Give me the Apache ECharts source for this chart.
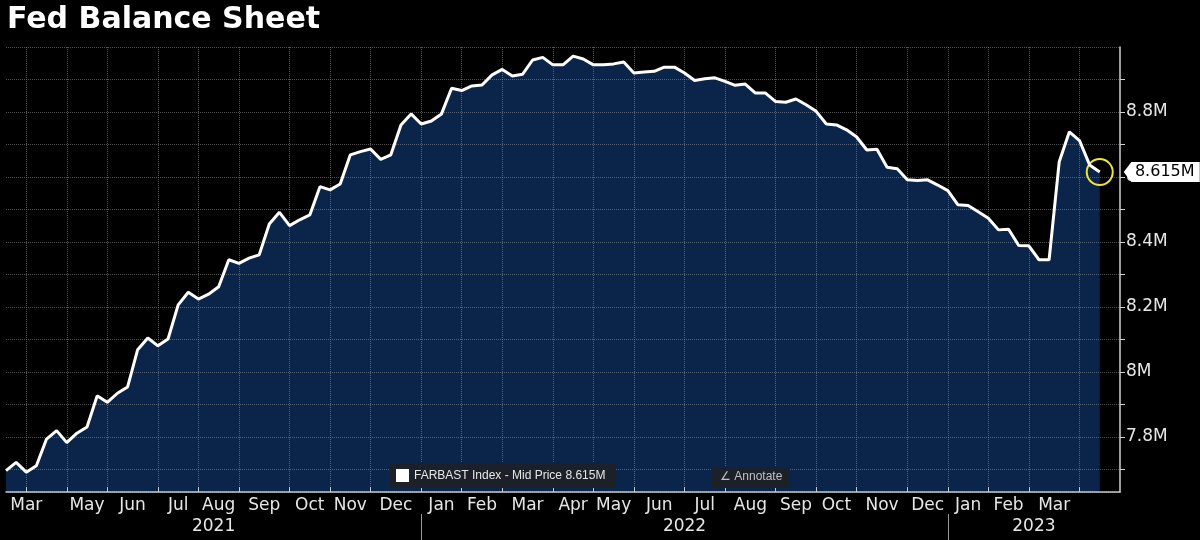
<!DOCTYPE html>
<html>
<head>
<meta charset="utf-8">
<script src="https://cdn.jsdelivr.net/npm/echarts@6/dist/echarts.min.js"></script>
<style>
  html, body { margin: 0; padding: 0; background: #000; }
  #chart { width: 1200px; height: 540px; }
</style>
</head>
<body>
<div id="chart"></div>
<script>
// ---------- DATA ----------
const chartTitle = 'Fed Balance Sheet';
const seriesName = 'FARBAST Index - Mid Price';
const firstWeek = '2021-03-17';   // first weekly observation (Wednesday)
const weekCount = 111;            // weekly slots shown on the axis
const monthNames = ['Jan','Feb','Mar','Apr','May','Jun','Jul','Aug','Sep','Oct','Nov','Dec'];
const yTickLabels = [7.8, 8.0, 8.2, 8.4, 8.6, 8.8];
// Fed total assets (shown in "M")
const balance = [
  7.696, 7.721, 7.691, 7.711, 7.793, 7.819, 7.782, 7.811, 7.830, 7.926,
  7.906, 7.934, 7.953, 8.068, 8.104, 8.080, 8.101, 8.206, 8.245, 8.224,
  8.239, 8.262, 8.345, 8.334, 8.350, 8.360, 8.455, 8.491, 8.450, 8.468,
  8.483, 8.570, 8.560, 8.578, 8.668, 8.678, 8.686, 8.654, 8.668, 8.760,
  8.794, 8.763, 8.772, 8.794, 8.873, 8.866, 8.880, 8.883, 8.914, 8.931,
  8.911, 8.916, 8.960, 8.968, 8.945, 8.945, 8.972, 8.963, 8.945, 8.945,
  8.948, 8.954, 8.920, 8.923, 8.925, 8.938, 8.938, 8.920, 8.897, 8.902,
  8.905, 8.894, 8.882, 8.886, 8.858, 8.858, 8.832, 8.830, 8.840, 8.822,
  8.802, 8.763, 8.760, 8.745, 8.723, 8.683, 8.685, 8.630, 8.625, 8.591,
  8.589, 8.591, 8.575, 8.558, 8.514, 8.512, 8.493, 8.473, 8.437, 8.439,
  8.389, 8.388, 8.345, 8.345, 8.647, 8.739, 8.712, 8.637, 8.615
];

// ---------- DERIVED ----------
const weeks = [];
{
  const d0 = new Date(firstWeek + 'T00:00:00Z');
  for (let i = 0; i < weekCount; i++) {
    const d = new Date(d0.getTime() + i * 7 * 86400000);
    weeks.push(d.toISOString().slice(0, 10));
  }
}
const N = weeks.length;
const lastIdx = balance.length - 1;
const lastVal = balance[lastIdx];
const padded = weeks.map((w, i) => (i < balance.length ? balance[i] : null));
const mon = w => +w.slice(5, 7) - 1;
const yr = w => w.slice(0, 4);

// ticks at the last week of each month; labels centred between ticks (half-week grid)
const monthTicks = [];
const yearTicks = [];
for (let i = 0; i < N - 1; i++) {
  if (mon(weeks[i + 1]) !== mon(weeks[i])) monthTicks.push(i);
  if (yr(weeks[i + 1]) !== yr(weeks[i])) yearTicks.push(i);
}
const halfCats = Array.from({ length: 2 * N - 1 }, (_, h) => String(h));
const tickHalf = new Set(monthTicks.map(i => 2 * i));
const yearTickHalf = new Set(yearTicks.map(i => 2 * i));
const monthLabelAt = {};
{
  let start = 0, lastPos = -100;
  monthTicks.forEach(end => {
    const pos = Math.max(start + end, 4);
    if (pos - lastPos >= 7) {
      monthLabelAt[pos] = monthNames[mon(weeks[end])];
      lastPos = pos;
    }
    start = end;
  });
}
const yearLabelAt = {};
{
  const bounds = [0, ...yearTicks, N - 1];
  for (let k = 0; k < bounds.length - 1; k++) {
    yearLabelAt[bounds[k] + bounds[k + 1]] = yr(weeks[bounds[k + 1]]);
  }
}

const font = 'DejaVu Sans';
const gridColor = 'rgba(150,150,150,0.55)';

const chart = echarts.init(document.getElementById('chart'), null, { renderer: 'canvas' });
chart.setOption({
  backgroundColor: '#000',
  animation: false,
  title: {
    text: chartTitle, left: 2, top: 0,
    textStyle: { color: '#fff', fontSize: 30, fontWeight: 'bold', fontFamily: font }
  },
  legend: {
    data: [{ name: seriesName, icon: 'rect', itemStyle: { color: '#fff' } }],
    left: 390, top: 463, itemWidth: 13, itemHeight: 13, itemGap: 4,
    padding: [6, 10, 6, 6], backgroundColor: '#1b2029', borderRadius: 2,
    selectedMode: false, z: 10,
    formatter: n => n + ' ' + lastVal + 'M',
    textStyle: { color: '#e6e6e6', fontSize: 12, fontFamily: 'Liberation Sans' }
  },
  graphic: [{
    type: 'group', left: 712, top: 467, z: 10,
    children: [
      { type: 'rect', z: 10, shape: { x: 0, y: 0, width: 77, height: 21, r: 2 }, style: { fill: '#1b2029' } },
      { type: 'text', z: 11, x: 8, y: 4, style: { text: '\u2220 Annotate', fill: '#c0c0c0', font: '12px "Liberation Sans"' } }
    ]
  }],
  grid: { left: 6, right: 80, top: 47, bottom: 48 },
  xAxis: [
    { type: 'category', data: weeks, boundaryGap: false, show: false },
    {
      type: 'category', data: halfCats, boundaryGap: false, position: 'bottom', z: 3,
      axisLine: { show: true, lineStyle: { color: '#c8c8c8', width: 1.5 } },
      axisTick: { show: true, inside: true, length: 5, interval: i => tickHalf.has(i), lineStyle: { color: '#c8c8c8' } },
      axisLabel: {
        interval: i => monthLabelAt[i] !== undefined,
        formatter: (v, i) => monthLabelAt[i] || '',
        color: '#e6e6e6', fontSize: 17, fontFamily: font, margin: 5
      },
      splitLine: { show: true, interval: i => tickHalf.has(i), lineStyle: { color: gridColor, type: 'dotted' } }
    },
    {
      type: 'category', data: halfCats, boundaryGap: false, position: 'bottom', offset: 22,
      axisLine: { show: false },
      axisTick: { show: true, length: 26, interval: i => yearTickHalf.has(i), lineStyle: { color: '#9a9a9a' } },
      axisLabel: {
        interval: i => yearLabelAt[i] !== undefined,
        formatter: (v, i) => yearLabelAt[i] || '',
        color: '#e6e6e6', fontSize: 17, fontFamily: font, margin: 4
      },
      splitLine: { show: false }
    }
  ],
  yAxis: {
    type: 'value', position: 'right', min: 7.63, max: 9.0, splitNumber: 14, z: 3,
    axisLine: { show: true, lineStyle: { color: '#d0d0d0', width: 1.5 } },
    axisTick: { show: true, length: 5, lineStyle: { color: '#d0d0d0' } },
    axisLabel: {
      color: '#e6e6e6', fontSize: 17, fontFamily: font, margin: 6,
      showMinLabel: false, showMaxLabel: false,
      formatter: v => {
        const hit = yTickLabels.find(t => Math.abs(t - v) < 1e-6);
        return hit === undefined ? '' : (Math.round(hit * 10) / 10) + 'M';
      }
    },
    splitLine: { show: true, lineStyle: { color: gridColor, type: 'dotted' } }
  },
  series: [
    {
      name: 'area', type: 'line', xAxisIndex: 0, data: padded, symbol: 'none', silent: true, z: 1,
      lineStyle: { width: 0 }, areaStyle: { color: '#0a2549', opacity: 1, origin: 'start' }
    },
    {
      name: seriesName, type: 'line', xAxisIndex: 0, data: padded, symbol: 'none', z: 5,
      lineStyle: { color: '#fff', width: 3 }, itemStyle: { color: '#fff' },
      markPoint: {
        silent: true,
        data: [
          {
            coord: [weeks[lastIdx], lastVal], symbol: 'circle', symbolSize: 26,
            itemStyle: { color: 'rgba(0,0,0,0)', borderColor: '#f0e630', borderWidth: 2 },
            label: { show: false }
          },
          {
            coord: [weeks[lastIdx], lastVal],
            symbol: 'path://M0,10 L8,0 L80,0 L80,20 L8,20 Z', symbolSize: [76, 20], symbolKeepAspect: false,
            symbolOffset: [62, 0], itemStyle: { color: '#fff' },
            label: { show: true, position: 'inside', offset: [3, 0], formatter: lastVal + 'M', color: '#000', fontSize: 16, fontFamily: font }
          }
        ]
      }
    }
  ]
});
</script>
</body>
</html>
